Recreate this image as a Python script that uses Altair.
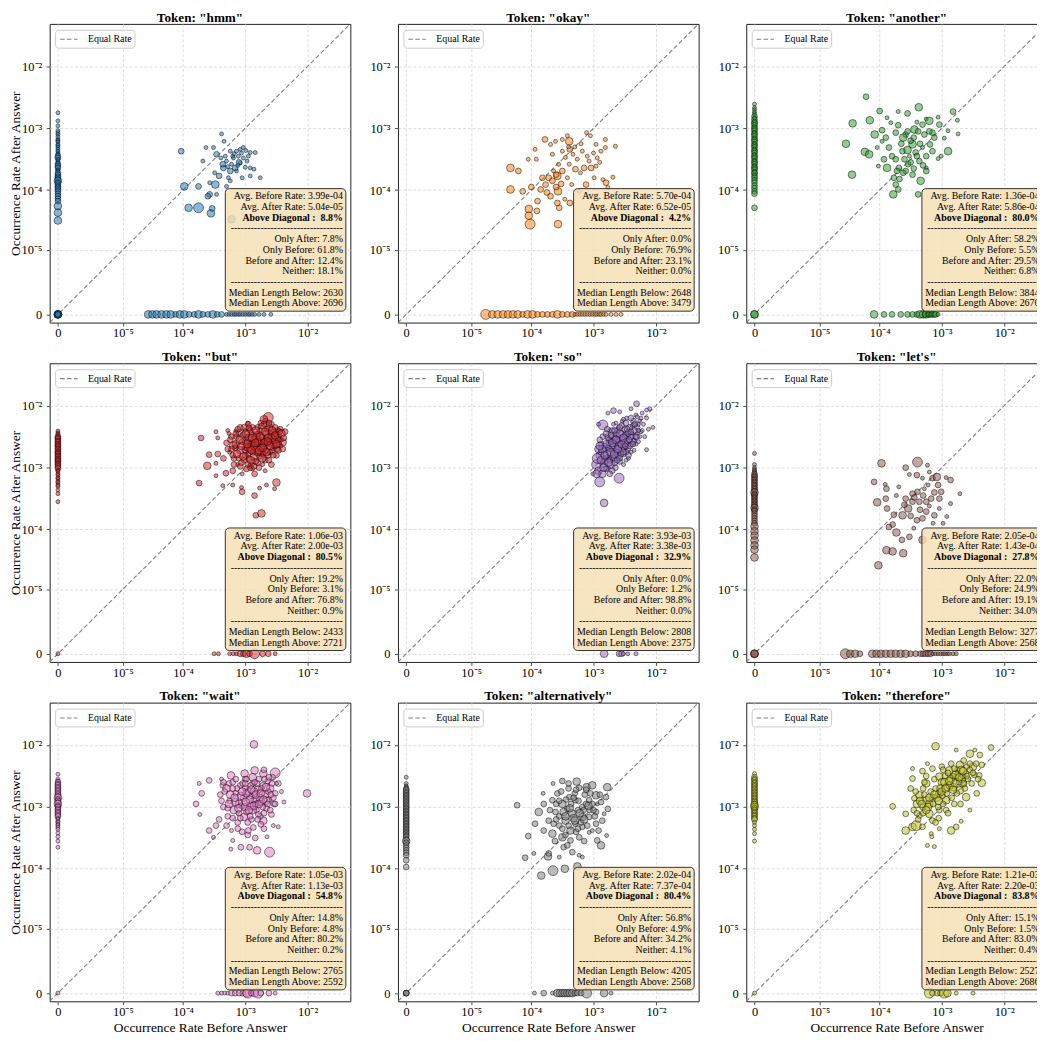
import altair as alt
import pandas as pd

# ---------------- data ----------------
TOKENS = ["hmm", "okay", "another", "but", "so", "let's", "wait", "alternatively", "therefore"]
COLORS = ["#1f77b4", "#ff7f0e", "#2ca02c", "#d62728", "#9467bd", "#8c564b", "#e377c2", "#7f7f7f", "#bcbd22"]

AVG_BEFORE = ["3.99e-04", "5.70e-04", "1.36e-04", "1.06e-03", "3.93e-03", "2.05e-04", "1.05e-03", "2.02e-04", "1.21e-03"]
AVG_AFTER = ["5.04e-05", "6.52e-05", "5.86e-04", "2.00e-03", "3.38e-03", "1.43e-04", "1.13e-03", "7.37e-04", "2.20e-03"]
ABOVE_DIAG = ["8.8%", "4.2%", "80.0%", "80.5%", "32.9%", "27.8%", "54.8%", "80.4%", "83.8%"]
ONLY_AFTER = ["7.8%", "0.0%", "58.2%", "19.2%", "0.0%", "22.0%", "14.8%", "56.8%", "15.1%"]
ONLY_BEFORE = ["61.8%", "76.9%", "5.5%", "3.1%", "1.2%", "24.9%", "4.8%", "4.9%", "1.5%"]
BOTH = ["12.4%", "23.1%", "29.5%", "76.8%", "98.8%", "19.1%", "80.2%", "34.2%", "83.0%"]
NEITHER = ["18.1%", "0.0%", "6.8%", "0.9%", "0.0%", "34.0%", "0.2%", "4.1%", "0.4%"]
MED_BELOW = ["2630", "2648", "3844", "2433", "2808", "3277", "2765", "4205", "2527"]
MED_ABOVE = ["2696", "3479", "2670", "2721", "2375", "2568", "2592", "2568", "2686"]

TICK_VALUES = [0, 1e-5, 1e-4, 1e-3, 1e-2]
TICK_LABELS = ["0", "10\u207b\u2075", "10\u207b\u2074", "10\u207b\u00b3", "10\u207b\u00b2"]
AXIS_MIN, AXIS_MAX = -3.55e-7, 0.0483

# points: (log10 before, log10 after, size class) ; strips: (log10 value, size class)
HMM_CLOUD = [(-4.03,-3.37,2),(-3.98,-3.94,3),(-3.91,-4.29,3),(-3.75,-4.29,4),(-3.55,-4.38,3),(-3.53,-4.30,2),
    (-3.75,-3.94,2),(-3.57,-4.07,2),(-3.48,-3.91,3),(-3.68,-3.53,1),(-3.51,-3.31,1),(-3.38,-3.09,1),(-3.46,-3.42,2),
    (-3.30,-3.94,1),(-3.42,-3.77,2),(-3.49,-3.72,1),(-3.35,-3.64,2),(-3.30,-3.53,1),(-3.24,-3.37,1),(-3.19,-3.48,1),
    (-3.14,-3.37,1),(-3.08,-3.34,1),(-3.03,-3.31,1),(-2.92,-3.39,1),(-2.84,-3.39,1),(-3.22,-3.58,1),(-3.16,-3.64,2),
    (-3.08,-3.56,1),(-3.00,-3.63,1),(-2.92,-3.64,1),(-2.86,-3.66,1),(-2.76,-3.80,1),(-2.92,-3.77,1),(-3.05,-3.80,1),
    (-3.14,-3.69,1),(-3.24,-3.69,2),(-3.27,-3.80,1),(-3.03,-3.48,1),(-2.97,-3.53,1),(-3.20,-3.45,1),(-3.32,-3.45,1),
    (-3.39,-3.48,1),(-3.11,-3.45,1),(-3.57,-3.88,1),(-3.46,-4.07,1),(-3.22,-4.48,3),(-3.60,-4.10,2),(-3.24,-3.85,1),
    (-3.63,-3.31,1),(-3.34,-3.21,1),(-3.36,-3.58,2),(-3.10,-3.55,2),(-2.95,-3.45,1),(-3.18,-3.41,1),(-3.06,-3.40,1),
    (-2.99,-3.36,1),(-3.28,-3.62,1),(-3.12,-3.60,1)]
HMM_AFTER = [(-2.75,1),(-2.88,1),(-2.96,1),(-3.04,1),(-3.07,1),(-3.10,1),(-3.14,1),(-3.18,1),(-3.20,1),(-3.22,1),
    (-3.26,1),(-3.28,1),(-3.31,1),(-3.34,1),(-3.37,1),(-3.40,1),(-3.42,1),(-3.45,2),(-3.48,2),(-3.50,1),(-3.53,1),
    (-3.56,1),(-3.58,2),(-3.61,2),(-3.64,2),(-3.67,1),(-3.69,1),(-3.72,2),(-3.75,2),(-3.78,2),(-3.80,2),(-3.83,2),
    (-3.85,3),(-3.88,2),(-3.91,2),(-3.94,2),(-3.96,2),(-3.99,2),(-4.02,2),(-4.06,2),(-4.10,2),(-4.14,2),(-4.18,2),
    (-4.26,3),(-4.37,3),(-4.50,3)]
HMM_BEFORE = [(-4.57,3),(-4.50,3),(-4.43,3),(-4.35,3),(-4.27,3),(-4.20,3),(-4.12,2),(-4.05,3),(-3.98,3),(-3.90,2),
    (-3.82,2),(-3.75,3),(-3.68,2),(-3.60,2),(-3.52,3),(-3.45,2),(-3.38,2),(-3.30,1),(-3.26,1),(-3.22,1),(-3.18,1),
    (-3.15,1),(-3.11,1),(-3.08,1),(-3.04,1),(-3.00,1),(-2.96,1),(-2.93,1),(-2.89,1),(-2.85,1),(-2.78,1),(-2.70,1),
    (-2.59,1)]
HMM_NEITHER = [3, 3, 3, 2, 2]

OKAY_CLOUD = [(-3.78,-3.18,2),(-3.94,-3.34,1),(-4.05,-3.50,1),(-3.92,-3.50,1),(-4.34,-3.64,3),(-4.21,-3.69,2),
    (-4.34,-3.99,3),(-4.14,-4.02,2),(-4.00,-3.95,2),(-3.90,-4.18,2),(-4.04,-4.31,3),(-4.04,-4.42,3),(-3.91,-4.34,2),
    (-4.02,-4.56,4),(-3.57,-4.56,3),(-3.55,-4.29,2),(-3.58,-4.21,2),(-3.72,-3.80,2),(-3.77,-3.91,2),(-3.66,-3.85,2),
    (-3.58,-3.77,3),(-3.57,-4.02,3),(-3.69,-4.10,2),(-3.64,-3.69,1),(-3.56,-3.58,1),(-3.66,-3.42,1),(-3.69,-3.26,1),
    (-3.61,-3.21,1),(-3.50,-3.18,1),(-3.39,-3.21,3),(-3.42,-3.12,1),(-3.38,-3.34,2),(-3.50,-3.37,1),(-3.33,-3.42,1),
    (-3.26,-3.50,1),(-3.18,-3.37,1),(-3.11,-3.07,1),(-3.05,-3.12,1),(-2.96,-3.26,1),(-2.88,-3.37,1),(-2.81,-3.18,1),
    (-2.81,-3.31,1),(-2.65,-3.29,1),(-2.94,-3.48,1),(-3.07,-3.53,1),(-3.15,-3.64,2),(-3.04,-3.64,2),(-2.96,-3.61,1),
    (-3.21,-3.72,1),(-3.29,-3.66,2),(-3.39,-3.58,1),(-3.42,-3.80,1),(-3.35,-3.91,1),(-3.46,-4.15,1),(-3.38,-4.21,2),
    (-3.12,-3.91,2),(-2.99,-3.80,1),(-2.85,-3.83,1),(-2.69,-3.79,1),(-2.80,-3.88,2),(-2.77,-3.96,1),(-3.23,-4.02,1),
    (-3.50,-3.69,2),(-3.82,-3.80,2),(-3.85,-3.99,2),(-3.75,-4.04,2),(-3.45,-3.47,1),(-3.30,-3.30,1),(-3.60,-3.95,2),
    (-3.40,-3.30,1),(-3.20,-3.25,1),(-3.00,-3.40,1),(-2.90,-3.55,1),(-3.10,-3.45,1),(-3.60,-3.75,2),(-3.52,-3.90,2)]
OKAY_AFTER = []
OKAY_BEFORE = [(-4.75,4),(-4.64,3),(-4.55,3),(-4.46,3),(-4.38,3),(-4.30,3),(-4.22,3),(-4.14,2),(-4.06,3),(-3.98,3),
    (-3.90,2),(-3.82,2),(-3.74,2),(-3.66,2),(-3.58,3),(-3.50,2),(-3.42,2),(-3.34,2),(-3.30,1),(-3.26,1),(-3.22,1),
    (-3.18,1),(-3.14,1),(-3.10,1),(-3.06,1),(-3.02,1),(-2.98,1),(-2.95,1),(-2.91,1),(-2.88,1),(-2.84,1),(-2.80,1),
    (-2.72,1),(-2.64,1),(-2.56,1)]
OKAY_NEITHER = []

ANOTHER_CLOUD = [(-4.22,-2.49,2),(-4.55,-3.25,3),(-4.44,-2.92,3),(-4.45,-3.75,3),(-4.16,-2.87,3),(-4.00,-2.72,2),
    (-3.88,-2.83,1),(-3.70,-2.73,1),(-3.55,-2.76,2),(-3.37,-2.66,3),(-3.25,-2.85,1),(-3.06,-2.82,1),(-2.82,-2.73,2),
    (-2.75,-2.87,1),(-2.74,-3.09,1),(-2.90,-3.04,1),(-2.96,-3.16,1),(-2.90,-3.37,3),(-3.01,-3.45,1),(-3.06,-3.49,1),
    (-3.19,-3.26,2),(-3.15,-3.07,2),(-3.20,-2.88,3),(-3.31,-2.94,2),(-3.44,-3.02,3),(-3.58,-3.10,2),(-3.62,-3.15,3),
    (-3.74,-3.07,2),(-3.82,-2.91,1),(-3.96,-3.03,2),(-4.08,-3.10,3),(-3.96,-3.21,1),(-3.85,-3.31,2),(-4.04,-3.31,1),
    (-4.24,-3.38,3),(-4.17,-3.42,3),(-3.93,-3.50,2),(-4.02,-3.61,1),(-3.74,-3.50,2),(-3.88,-3.64,3),(-3.69,-3.64,2),
    (-3.54,-3.58,2),(-3.47,-3.75,2),(-3.58,-3.69,2),(-3.77,-3.80,2),(-3.74,-3.91,2),(-3.70,-3.99,2),(-3.78,-4.07,3),
    (-3.34,-3.85,3),(-3.25,-3.64,1),(-3.25,-3.69,2),(-3.36,-3.53,2),(-3.47,-3.26,3),(-3.31,-3.31,1),(-3.42,-3.39,2),
    (-3.63,-3.37,2),(-3.52,-3.45,1),(-3.15,-3.37,2),(-3.04,-2.94,2),(-3.12,-3.15,2),(-3.38,-4.07,2),(-3.72,-3.69,2),
    (-3.50,-3.20,2),(-3.28,-3.10,2),(-3.40,-2.90,1),(-3.65,-3.25,2),(-3.60,-3.50,2),(-3.55,-3.35,3),(-3.50,-3.55,2),
    (-3.45,-3.15,2),(-3.40,-3.45,2),(-3.35,-3.25,2),(-3.30,-3.60,2),(-3.55,-3.05,2),(-3.68,-3.82,2),(-3.62,-3.72,2),
    (-3.45,-3.65,2),(-3.25,-3.45,2),(-3.20,-3.05,2),(-3.38,-3.05,2),(-3.80,-3.45,2),(-3.90,-3.15,2),(-3.70,-2.95,2)]
ANOTHER_AFTER = [(-2.61,1),(-2.67,1),(-2.70,1),(-2.74,1),(-2.77,1),(-2.81,2),(-2.83,1),(-2.86,2),(-2.90,2),(-2.92,2),
    (-2.95,2),(-2.99,2),(-3.01,2),(-3.04,2),(-3.08,2),(-3.10,2),(-3.13,2),(-3.17,2),(-3.19,2),(-3.22,2),(-3.26,2),
    (-3.28,2),(-3.31,2),(-3.35,2),(-3.37,2),(-3.40,2),(-3.44,2),(-3.46,2),(-3.49,2),(-3.53,2),(-3.55,2),(-3.58,2),
    (-3.62,2),(-3.64,2),(-3.67,2),(-3.71,2),(-3.73,2),(-3.77,2),(-3.80,2),(-3.84,2),(-3.88,2),(-3.93,2),(-3.97,2),
    (-4.02,2),(-4.06,2),(-4.29,2)]
ANOTHER_BEFORE = [(-4.09,3),(-3.93,2),(-3.80,2),(-3.66,2),(-3.55,2),(-3.47,2),(-3.40,2),(-3.35,3),(-3.30,3),
    (-3.27,2),(-3.25,3),(-3.22,2),(-3.20,2),(-3.17,2),(-3.15,2),(-3.12,2),(-3.10,2),(-3.06,1)]
ANOTHER_NEITHER = [3, 3]

BUT_CLOUD = [(-3.71,-2.52,2),(-3.74,-3.25,2),(-3.61,-2.97,3),(-3.47,-3.13,1),(-3.47,-2.93,1),(-3.47,-2.42,1),
    (-3.44,-2.52,1),(-3.31,-3.09,2),(-3.36,-3.29,1),(-3.20,-3.28,1),(-3.06,-3.32,1),(-3.05,-3.39,2),(-2.85,-3.45,2),
    (-2.83,-3.77,2),(-2.74,-3.74,3),(-2.77,-3.33,1),(-2.66,-3.28,1),(-2.50,-3.24,3),(-2.53,-3.34,1),(-2.40,-2.59,3),
    (-2.63,-2.19,4),(-2.68,-2.25,2),(-2.36,-2.42,2),(-3.01,-2.36,3),(-2.96,-2.28,1),(-3.15,-2.41,1),(-3.44,-2.78,2),
    (-3.58,-2.79,2),
    (-3.30,-2.60,2),(-3.25,-2.75,1),(-3.22,-2.50,2),(-3.18,-2.85,2),(-3.15,-2.62,3),(-3.12,-2.95,1),(-3.10,-2.45,2),
    (-3.08,-2.72,3),(-3.05,-2.58,2),(-3.02,-2.88,2),(-3.00,-2.40,1),(-2.98,-2.66,3),(-2.96,-2.78,2),(-2.94,-2.52,3),
    (-2.92,-3.00,2),(-2.90,-2.62,3),(-2.88,-2.35,2),(-2.86,-2.82,3),(-2.84,-2.70,2),(-2.82,-2.48,3),(-2.80,-2.92,2),
    (-2.78,-2.60,3),(-2.76,-2.40,2),(-2.74,-2.76,3),(-2.72,-2.55,2),(-2.70,-2.66,3),(-2.68,-2.88,2),(-2.66,-2.45,3),
    (-2.64,-2.62,2),(-2.62,-2.35,3),(-2.60,-2.75,2),(-2.58,-2.52,3),(-2.56,-2.68,2),(-2.54,-2.42,2),(-2.52,-2.58,3),
    (-2.50,-2.80,2),(-2.48,-2.50,2),(-2.46,-2.62,2),(-2.44,-2.38,2),(-2.42,-2.55,1),(-2.40,-2.70,2),(-3.20,-3.05,2),
    (-3.05,-3.10,1),(-2.95,-2.30,2),(-2.75,-2.28,2),(-2.58,-2.95,2),(-2.68,-3.05,1),(-3.35,-2.85,2),(-3.28,-2.40,1),
    (-2.85,-3.10,2),(-2.70,-2.22,3),(-2.90,-2.95,2),(-3.12,-2.38,2),(-2.62,-2.88,2),(-2.98,-2.50,2),(-2.80,-2.75,3),
    (-2.65,-2.55,2),(-3.00,-2.80,2),(-2.88,-2.60,2),
    (-3.28,-2.70,2),(-3.24,-2.55,2),(-3.20,-2.80,2),(-3.16,-2.68,2),(-3.14,-2.50,2),(-3.10,-2.85,2),(-3.06,-2.65,3),
    (-3.04,-2.48,2),(-3.00,-2.72,2),(-2.97,-2.58,2),(-2.94,-2.85,2),(-2.92,-2.70,3),(-2.90,-2.45,2),(-2.87,-2.75,2),
    (-2.85,-2.55,3),(-2.83,-2.90,2),(-2.81,-2.62,2),(-2.79,-2.45,2),(-2.77,-2.82,2),(-2.75,-2.68,3),(-2.73,-2.50,2),
    (-2.71,-2.78,2),(-2.69,-2.58,2),(-2.67,-2.72,2),(-2.65,-2.38,2),(-2.63,-2.80,2),(-2.61,-2.58,2),(-2.59,-2.45,2),
    (-2.57,-2.72,2),(-2.55,-2.55,3),(-2.53,-2.65,2),(-2.51,-2.45,2),(-2.49,-2.70,2),(-2.47,-2.55,2),(-2.45,-2.48,1),
    (-2.43,-2.65,1),(-3.18,-2.95,2),(-3.08,-2.98,2),(-2.98,-3.02,2),(-2.88,-3.02,1),(-2.78,-3.00,2),(-2.72,-2.95,1),
    (-3.26,-2.45,1),(-3.08,-2.35,2),(-2.92,-2.40,2),(-2.80,-2.35,2),(-2.70,-2.30,2),(-2.58,-2.30,2),(-2.52,-2.35,2),
    (-2.48,-2.40,2)]
BUT_CORE = [(-3.19,-2.64,3),(-3.13,-2.78,3),(-3.09,-2.55,3),(-3.03,-2.82,3),(-2.99,-2.45,3),(-2.95,-2.68,3),
    (-2.91,-2.88,3),(-2.89,-2.52,3),(-2.86,-2.65,3),(-2.83,-2.40,3),(-2.80,-2.58,3),(-2.78,-2.72,3),(-2.76,-2.50,3),
    (-2.73,-2.85,3),(-2.70,-2.60,3),(-2.68,-2.42,3),(-2.66,-2.75,3),(-2.63,-2.52,3),(-2.60,-2.65,3),(-2.57,-2.40,3),
    (-2.55,-2.80,2),(-2.52,-2.48,3),(-2.50,-2.62,3),(-2.47,-2.72,2),(-2.45,-2.42,2),(-3.06,-2.92,2),(-2.96,-2.95,2),
    (-2.86,-2.98,2),(-3.15,-2.45,2),(-2.94,-2.36,2),(-2.74,-2.33,2),(-2.62,-2.28,2),(-2.42,-2.45,3),(-2.38,-2.52,2),
    (-3.22,-2.70,2),(-2.90,-2.72,3),(-2.72,-2.68,3),(-2.84,-2.60,3),(-2.64,-2.58,3),(-2.97,-2.62,3)]
BUT_AFTER = [(-2.41,1),(-2.44,1),(-2.46,1),(-2.50,2),(-2.52,2),(-2.54,2),(-2.57,2),(-2.59,2),(-2.62,2),(-2.64,2),
    (-2.66,2),(-2.69,2),(-2.71,2),(-2.74,2),(-2.76,2),(-2.78,2),(-2.81,2),(-2.83,2),(-2.86,2),(-2.88,2),(-2.90,2),
    (-2.93,2),(-2.95,2),(-2.98,2),(-3.01,2),(-3.04,1),(-3.06,1),(-3.10,1),(-3.12,1),(-3.16,1),(-3.18,1),(-3.22,1),
    (-3.24,1),(-3.28,1),(-3.30,1),(-3.36,1),(-3.42,1),(-3.55,1)]
BUT_BEFORE = [(-3.50,1),(-3.43,1),(-3.25,1),(-3.19,1),(-3.14,1),(-3.08,2),(-3.03,2),(-2.98,3),(-2.93,2),(-2.85,4),
    (-2.72,2),(-2.63,2),(-2.52,1)]
BUT_NEITHER = [1]

SO_CLOUD = [(-2.95,-2.95,4),(-2.92,-3.05,3),(-2.90,-2.80,3),(-2.88,-2.62,2),(-2.86,-3.10,3),(-2.85,-2.31,4),
    (-2.83,-3.57,3),(-2.82,-2.90,2),(-2.80,-2.70,3),(-2.78,-2.50,2),(-2.78,-3.00,2),(-2.76,-2.85,2),(-2.75,-2.60,2),
    (-2.74,-2.40,1),(-2.72,-2.95,3),(-2.70,-2.72,2),(-2.70,-2.50,2),(-2.68,-2.30,1),(-2.67,-2.85,2),(-2.65,-2.62,2),
    (-2.64,-2.45,2),(-2.62,-2.75,2),(-2.60,-2.55,2),(-2.60,-2.35,1),(-2.59,-3.17,4),(-2.58,-2.90,2),(-2.56,-2.65,2),
    (-2.55,-2.45,2),(-2.54,-2.25,1),(-2.52,-2.78,2),(-2.50,-2.58,2),(-2.50,-2.38,2),(-2.48,-2.68,1),(-2.47,-2.20,1),
    (-2.45,-2.50,2),(-2.44,-2.85,1),(-2.42,-2.35,2),(-2.40,-2.62,2),(-2.38,-2.45,1),(-2.36,-2.25,2),(-2.35,-2.72,1),
    (-2.33,-2.50,2),(-2.32,-2.15,1),(-2.30,-2.35,2),(-2.28,-2.58,1),(-2.26,-2.25,1),(-2.24,-2.42,1),(-2.22,-2.12,1),
    (-2.20,-2.30,1),(-2.18,-2.50,1),(-2.15,-2.71,1),(-2.15,-2.20,1),(-2.12,-2.38,1),(-2.10,-2.05,1),(-2.31,-1.97,2),
    (-2.15,-2.07,1),(-2.77,-2.12,1),(-2.92,-2.30,1),(-3.01,-3.10,1),(-2.68,-2.08,2),(-2.58,-2.10,1),(-2.40,-2.05,1),
    (-2.05,-2.35,1),(-2.65,-3.00,2),(-2.52,-2.95,1),(-2.45,-2.70,2),(-2.35,-2.55,1),(-2.90,-3.23,4),(-2.94,-2.85,4),
    (-2.88,-2.75,2),(-2.85,-2.95,2),(-2.82,-2.65,2),(-2.80,-2.85,2),(-2.78,-2.78,3),(-2.76,-2.68,2),(-2.74,-2.88,2),
    (-2.72,-2.58,2),(-2.70,-2.82,2),(-2.68,-2.65,2),(-2.66,-2.92,2),(-2.64,-2.72,2),(-2.62,-2.55,2),(-2.60,-2.82,2),
    (-2.58,-2.62,2),(-2.56,-2.78,2),(-2.54,-2.52,2),(-2.52,-2.68,2),(-2.50,-2.48,2),(-2.48,-2.75,2),(-2.46,-2.58,2),
    (-2.44,-2.42,2),(-2.42,-2.65,2),(-2.40,-2.50,2),(-2.38,-2.32,1),(-2.36,-2.58,2),(-2.34,-2.40,2),(-2.32,-2.62,1),
    (-2.30,-2.45,1),(-2.28,-2.30,1),(-2.26,-2.50,1),(-2.24,-2.20,1),(-2.22,-2.40,1),(-2.62,-2.40,2),(-2.55,-2.32,2),
    (-2.70,-2.40,2),(-2.66,-2.52,2),(-2.60,-2.65,3),(-2.50,-2.60,3),(-2.45,-2.45,2),(-2.75,-2.55,2),(-2.85,-2.50,2),
    (-2.92,-2.70,3),(-2.88,-2.88,3),(-2.80,-3.02,2),(-2.70,-3.05,2),(-2.58,-2.85,2),(-2.48,-2.88,1),(-2.40,-2.75,1),
    (-2.35,-2.30,1),(-2.52,-2.22,1),(-2.64,-2.28,1),(-2.78,-2.38,2),(-2.90,-2.55,2)]
SO_CORE = [(-2.86,-2.70,3),(-2.82,-2.80,3),(-2.79,-2.62,3),(-2.76,-2.92,3),(-2.73,-2.75,3),(-2.70,-2.60,3),
    (-2.67,-2.78,3),(-2.64,-2.55,3),(-2.61,-2.70,3),(-2.58,-2.45,3),(-2.55,-2.62,3),(-2.52,-2.52,3),(-2.49,-2.65,2),
    (-2.46,-2.38,2),(-2.43,-2.55,2),(-2.40,-2.42,2),(-2.37,-2.62,2),(-2.34,-2.30,2),(-2.31,-2.50,2),(-2.28,-2.40,1),
    (-2.72,-2.48,2),(-2.66,-2.40,2),(-2.58,-2.35,2),(-2.48,-2.28,2),(-2.40,-2.20,2),(-2.30,-2.18,1),(-2.62,-2.88,2),
    (-2.52,-2.75,2),(-2.44,-2.80,2),(-2.80,-2.45,2),(-2.90,-2.65,3),(-2.84,-3.00,3),(-2.95,-3.10,3),(-2.74,-3.10,2)]
SO_AFTER = []
SO_BEFORE = [(-2.83,3),(-2.59,2),(-2.55,2),(-2.52,1),(-2.45,1),(-2.32,1)]
SO_NEITHER = []

LETS_CLOUD = [(-3.97,-2.93,3),(-3.58,-3.00,2),(-3.39,-2.91,4),(-3.23,-2.96,1),(-3.20,-3.07,1),(-3.52,-3.11,1),
    (-3.40,-3.12,2),(-3.31,-3.17,1),(-3.15,-3.17,2),(-3.08,-3.15,3),(-2.93,-3.16,1),(-2.86,-3.20,2),(-2.71,-3.42,1),
    (-2.86,-3.58,1),(-2.92,-3.79,1),(-4.09,-3.23,2),(-3.91,-3.27,1),(-3.89,-3.34,2),(-3.69,-3.31,1),(-3.73,-3.45,1),
    (-3.58,-3.50,2),(-3.90,-3.50,2),(-4.04,-3.56,3),(-3.88,-3.66,2),(-3.77,-3.76,2),(-3.79,-3.92,2),(-3.63,-3.77,3),
    (-3.54,-3.66,3),(-3.47,-3.55,2),(-3.36,-3.55,2),(-3.25,-3.55,2),(-3.17,-3.50,2),(-3.04,-3.50,2),(-3.01,-3.39,2),
    (-3.06,-3.28,2),(-3.28,-3.34,1),(-3.39,-3.39,2),(-3.47,-3.42,2),(-3.25,-3.71,2),(-3.31,-3.82,2),(-3.12,-3.77,2),
    (-3.04,-3.66,1),(-2.98,-3.90,1),(-3.14,-3.90,1),(-3.45,-3.98,1),(-3.52,-4.12,2),(-3.64,-4.17,2),(-3.73,-4.05,3),
    (-3.31,-4.17,3),(-3.89,-4.34,3),(-3.79,-4.36,3),(-3.62,-4.39,3),(-4.02,-4.59,3),(-3.85,-3.96,2),(-3.60,-3.60,2),
    (-3.35,-3.68,2),(-3.20,-3.62,1),(-3.44,-3.48,2),(-3.30,-3.45,2),(-3.12,-3.40,2),(-3.22,-3.28,1),(-3.50,-3.78,2),
    (-3.40,-3.85,2)]
LETS_AFTER = [(-2.77,1),(-2.95,1),(-3.00,1),(-3.03,1),(-3.05,1),(-3.08,1),(-3.10,2),(-3.13,2),(-3.15,2),(-3.18,2),
    (-3.20,2),(-3.23,2),(-3.25,2),(-3.28,2),(-3.30,2),(-3.33,2),(-3.35,2),(-3.38,2),(-3.40,3),(-3.43,2),(-3.45,2),
    (-3.48,2),(-3.50,2),(-3.53,2),(-3.55,2),(-3.58,2),(-3.60,2),(-3.63,2),(-3.65,3),(-3.68,2),(-3.70,2),(-3.74,2),
    (-3.78,2),(-3.82,2),(-3.86,2),(-3.90,2),(-3.95,3),(-4.03,3),(-4.10,3),(-4.18,3),(-4.26,3),(-4.33,3),(-4.46,3)]
LETS_BEFORE = [(-4.56,4),(-4.48,3),(-4.40,3),(-4.32,2),(-4.12,3),(-4.05,3),(-3.98,3),(-3.90,3),(-3.82,3),(-3.74,3),
    (-3.66,3),(-3.58,3),(-3.50,2),(-3.42,2),(-3.34,2),(-3.30,2),(-3.26,2),(-3.22,2),(-3.18,2),(-3.14,1),(-3.10,1),
    (-3.06,1),(-3.02,1),(-2.98,1),(-2.95,1),(-2.91,1),(-2.88,1),(-2.82,1),(-2.77,1)]
LETS_NEITHER = [3, 3, 3]

WAIT_CLOUD = [(-2.86,-1.99,3),(-3.79,-2.95,2),(-3.73,-3.12,1),(-3.70,-2.78,2),(-3.58,-2.57,2),(-3.74,-2.62,1),
    (-2.01,-2.78,3),(-2.38,-2.92,1),(-2.47,-3.32,1),(-2.61,-3.73,4),(-2.81,-3.70,3),(-2.93,-3.65,2),(-3.07,-3.65,2),
    (-3.20,-3.54,1),(-3.23,-3.68,1),(-3.51,-3.49,1),(-3.58,-3.38,2),(-3.47,-3.30,2),(-2.52,-2.45,4),(-2.71,-2.46,3),
    (-2.85,-2.41,3),(-3.01,-2.46,3),(-3.23,-2.49,3),(-3.26,-2.62,2),(-3.36,-2.65,2),(-2.47,-2.62,2),(-2.42,-2.75,1),
    (-3.02,-3.16,3),(-2.71,-3.22,3),(-2.87,-3.33,2),
    (-3.40,-2.80,2),(-3.35,-3.00,2),(-3.30,-2.70,3),(-3.28,-3.15,2),(-3.25,-2.90,2),(-3.20,-2.60,2),(-3.18,-3.05,3),
    (-3.15,-2.78,2),(-3.12,-3.25,2),(-3.10,-2.95,3),(-3.08,-2.65,2),(-3.05,-3.40,2),(-3.02,-2.85,3),(-3.00,-2.55,2),
    (-2.98,-3.08,2),(-2.95,-2.75,3),(-2.92,-2.98,3),(-2.90,-3.20,2),(-2.88,-2.62,2),(-2.85,-2.88,3),(-2.82,-3.05,2),
    (-2.80,-2.72,3),(-2.78,-2.55,2),(-2.76,-3.15,2),(-2.74,-2.92,3),(-2.72,-2.65,2),(-2.70,-3.35,2),(-2.68,-2.80,3),
    (-2.66,-3.02,2),(-2.64,-2.58,2),(-2.62,-2.88,2),(-2.60,-2.70,3),(-2.58,-3.12,2),(-2.56,-2.52,2),(-2.54,-2.95,2),
    (-2.52,-2.78,2),(-2.55,-3.30,1),(-2.50,-2.62,1),(-3.38,-2.55,1),(-3.42,-3.20,2),(-3.22,-3.38,1),(-2.96,-3.45,2),
    (-2.84,-3.50,2),(-2.65,-3.48,1),(-3.00,-2.70,2),(-2.90,-2.82,2),(-2.82,-2.95,2),(-3.06,-2.98,2),
    (-3.38,-2.90,2),(-3.33,-2.75,2),(-3.28,-3.02,2),(-3.24,-2.80,3),(-3.20,-3.18,2),(-3.16,-2.92,3),(-3.13,-2.70,2),
    (-3.10,-3.10,2),(-3.07,-2.82,3),(-3.04,-2.62,2),(-3.01,-3.00,3),(-2.98,-2.78,3),(-2.96,-3.25,2),(-2.93,-2.88,3),
    (-2.91,-2.65,2),(-2.88,-3.05,3),(-2.86,-2.75,3),(-2.84,-2.95,2),(-2.81,-2.62,2),(-2.79,-3.12,2),(-2.77,-2.85,3),
    (-2.74,-2.70,2),(-2.72,-3.00,2),(-2.69,-2.55,2),(-2.66,-2.90,3),(-2.63,-2.75,2),(-2.60,-3.05,2),(-2.57,-2.62,2),
    (-2.55,-2.85,2),(-2.52,-2.95,2),(-3.30,-3.30,2),(-3.12,-3.35,2),(-2.95,-3.38,2),(-2.75,-3.28,2),(-3.35,-2.60,2),
    (-3.15,-2.55,2),(-2.98,-2.55,2),(-2.70,-2.40,2),(-2.62,-2.52,2),(-2.88,-2.52,3)]
WAIT_CORE = [(-3.26,-2.95,3),(-3.17,-2.85,3),(-3.11,-3.02,3),(-3.05,-2.75,3),(-2.99,-2.92,3),(-2.94,-3.05,3),
    (-2.90,-2.72,3),(-2.86,-2.98,3),(-2.83,-2.80,3),(-2.78,-2.95,3),(-2.75,-2.78,3),(-2.71,-2.88,3),(-2.67,-2.68,3),
    (-2.64,-2.95,2),(-2.59,-2.80,2),(-3.08,-3.18,2),(-2.92,-3.15,2),(-2.80,-3.20,2),(-3.20,-2.70,2),(-3.00,-2.62,2),
    (-2.85,-2.60,2),(-2.70,-3.10,2)]
WAIT_AFTER = [(-2.47,1),(-2.55,1),(-2.58,1),(-2.60,2),(-2.63,2),(-2.65,2),(-2.68,2),(-2.70,2),(-2.73,2),(-2.75,2),
    (-2.78,2),(-2.80,2),(-2.83,2),(-2.85,3),(-2.88,2),(-2.90,2),(-2.93,2),(-2.95,3),(-2.98,2),(-3.00,2),(-3.03,2),
    (-3.05,2),(-3.08,2),(-3.10,2),(-3.13,2),(-3.15,2),(-3.18,1),(-3.20,1),(-3.23,1),(-3.25,1),(-3.28,1),(-3.30,1),
    (-3.33,1),(-3.36,1),(-3.42,1),(-3.48,1),(-3.55,1),(-3.65,1)]
WAIT_BEFORE = [(-3.44,1),(-3.38,1),(-3.33,1),(-3.28,1),(-3.22,2),(-3.16,2),(-3.10,2),(-3.04,2),(-2.98,3),(-2.96,4),
    (-2.90,2),(-2.85,3),(-2.79,4),(-2.75,2),(-2.62,2),(-2.52,1)]
WAIT_NEITHER = [1]

ALT_CLOUD = [(-4.23,-2.97,2),(-4.10,-3.82,2),(-3.96,-3.75,1),(-4.05,-3.47,2),(-3.84,-4.11,3),(-3.65,-4.03,4),
    (-3.46,-4.00,3),(-3.26,-3.96,3),(-3.73,-3.80,3),(-3.72,-3.75,2),(-3.55,-3.81,1),(-3.48,-3.65,2),(-3.34,-3.73,2),
    (-3.23,-3.78,1),(-3.18,-3.81,1),(-3.37,-3.54,2),(-3.50,-3.49,3),(-3.66,-3.43,3),(-3.80,-3.38,2),(-3.94,-3.27,2),
    (-3.88,-3.08,3),(-3.80,-2.95,2),(-3.81,-2.78,1),(-3.65,-2.62,1),(-3.50,-2.58,2),(-3.27,-2.59,3),(-3.23,-2.69,2),
    (-3.11,-2.68,3),(-3.02,-2.65,3),(-2.78,-2.68,3),(-2.80,-2.84,2),(-2.77,-3.03,2),(-2.83,-3.11,1),(-2.96,-3.08,2),
    (-2.79,-3.46,1),(-2.88,-3.62,3),(-2.94,-3.54,2),(-3.07,-3.41,1),(-3.18,-3.32,2),(-3.07,-3.16,2),(-3.18,-3.00,2),
    (-3.29,-2.89,2),(-3.39,-2.84,2),(-3.50,-2.95,3),(-3.61,-3.08,2),(-3.64,-3.27,2),(-3.45,-3.22,3),(-3.29,-3.27,2),
    (-3.18,-3.16,3),(-3.07,-2.89,2),(-2.96,-2.81,3),(-2.94,-2.95,1),(-3.42,-3.03,2),(-3.58,-2.78,2),(-3.66,-2.89,2),
    (-3.72,-3.22,2),(-3.37,-3.38,3),(-3.23,-3.49,2),(-3.02,-3.38,1),(-2.96,-3.27,2),(-3.35,-3.10,3),(-3.25,-3.05,2),
    (-3.12,-2.95,2),(-3.40,-2.70,2),(-3.55,-3.15,2),(-3.30,-2.78,2),
    (-3.60,-2.95,2),(-3.55,-3.30,2),(-3.48,-3.08,3),(-3.44,-2.88,2),(-3.40,-3.30,2),(-3.36,-2.95,2),(-3.32,-3.18,3),
    (-3.28,-3.40,2),(-3.24,-2.90,2),(-3.20,-3.25,2),(-3.16,-3.05,2),(-3.14,-2.80,2),(-3.10,-3.30,2),(-3.06,-3.05,2),
    (-3.02,-2.95,2),(-2.98,-3.15,2),(-2.92,-3.38,2),(-2.88,-2.92,2),(-2.86,-3.22,2),(-3.45,-3.45,2),(-3.52,-2.75,2),
    (-3.70,-3.05,2),(-3.62,-3.55,2),(-3.42,-3.62,2),(-3.15,-3.55,2),(-3.28,-2.72,2),(-3.05,-2.78,2)]
ALT_CORE = [(-3.45,-3.15,3),(-3.38,-3.02,3),(-3.30,-3.22,3),(-3.22,-3.10,3),(-3.15,-3.20,3),(-3.08,-2.98,3),
    (-3.32,-2.85,2),(-3.50,-3.35,2),(-3.25,-3.35,2),(-3.00,-3.05,2),(-2.90,-2.80,2),(-3.40,-2.62,2),(-3.60,-3.20,2),
    (-3.12,-2.72,2),(-3.55,-2.90,2)]
ALT_AFTER = [(-2.52,1),(-2.62,1),(-2.66,1),(-2.68,1),(-2.71,2),(-2.73,2),(-2.76,2),(-2.78,2),(-2.81,2),(-2.83,2),
    (-2.86,2),(-2.88,2),(-2.91,2),(-2.93,2),(-2.96,2),(-2.98,2),(-3.01,2),(-3.03,2),(-3.06,2),(-3.08,2),(-3.11,2),
    (-3.13,2),(-3.16,2),(-3.18,2),(-3.21,2),(-3.23,2),(-3.26,2),(-3.28,2),(-3.31,2),(-3.33,2),(-3.36,2),(-3.38,2),
    (-3.41,2),(-3.43,2),(-3.46,2),(-3.48,2),(-3.52,2),(-3.55,3),(-3.58,2),(-3.62,2),(-3.66,2),(-3.70,2),(-3.74,2),
    (-3.78,2),(-3.86,2),(-3.97,2)]
ALT_BEFORE = [(-3.95,1),(-3.80,2),(-3.66,1),(-3.58,3),(-3.54,3),(-3.50,3),(-3.46,3),(-3.42,3),(-3.38,3),(-3.34,3),
    (-3.30,2),(-3.26,2),(-3.20,2),(-3.11,4),(-2.83,3),(-2.72,1)]
ALT_NEITHER = [2, 2, 2]

THEREFORE_CLOUD = [(-3.79,-2.99,2),(-3.58,-3.11,2),(-3.58,-3.38,3),(-3.47,-3.32,3),(-3.41,-3.30,4),(-3.31,-3.32,2),
    (-3.23,-3.62,1),(-3.12,-3.64,1),(-3.17,-3.43,1),(-3.04,-3.35,1),(-2.85,-3.38,3),(-2.77,-3.32,2),(-2.69,-3.23,1),
    (-3.10,-2.02,3),(-2.77,-2.08,1),(-2.55,-2.14,3),(-2.47,-2.08,1),(-2.39,-2.16,2),(-2.21,-2.04,2),(-2.36,-2.32,2),
    (-2.36,-2.61,3),(-2.40,-2.49,2),(-2.61,-2.84,3),(-2.71,-2.73,3),(-2.93,-2.68,3),(-2.93,-2.89,3),(-3.04,-2.78,3),
    (-3.15,-2.84,2),(-3.25,-2.89,3),(-3.36,-2.81,3),(-3.44,-2.86,2),(-3.47,-2.54,2),(-3.47,-2.38,1),(-3.31,-2.42,2),
    (-3.23,-2.30,1),(-3.15,-2.38,2),(-3.04,-2.51,3),(-2.88,-2.41,3),(-2.71,-2.32,3),(-2.77,-2.51,2),(-2.61,-2.46,2),
    (-2.50,-2.35,3),(-2.66,-2.62,3),(-2.82,-2.68,3),(-2.93,-3.05,2),(-3.04,-3.05,2),(-3.20,-3.11,3),(-3.31,-3.00,2),
    (-3.36,-3.14,2),(-3.15,-3.22,2),(-2.55,-3.05,1),(-2.44,-2.78,2),(-3.25,-2.62,3),(-3.16,-3.48,1),(-3.00,-2.60,3),
    (-2.95,-2.50,2),(-2.85,-2.55,3),(-2.75,-2.40,2),(-2.68,-2.55,3),(-3.10,-2.70,2),(-3.20,-2.95,3),(-2.98,-2.95,2),
    (-2.80,-2.95,2),(-3.40,-2.95,3),(-3.30,-2.70,2),(-2.60,-2.35,2),(-3.50,-2.70,2),(-3.05,-3.18,2),
    (-3.45,-3.05,2),(-3.38,-3.20,2),(-3.35,-2.90,3),(-3.30,-3.10,2),(-3.28,-2.80,2),(-3.22,-3.00,3),(-3.18,-2.75,2),
    (-3.14,-2.95,2),(-3.12,-2.55,2),(-3.08,-2.85,3),(-3.06,-3.00,2),(-3.02,-2.70,3),(-2.99,-2.82,2),(-2.96,-2.60,3),
    (-2.92,-2.78,2),(-2.90,-2.45,2),(-2.87,-2.65,3),(-2.84,-2.85,2),(-2.82,-2.50,2),(-2.79,-2.62,3),(-2.76,-2.78,2),
    (-2.74,-2.45,2),(-2.72,-2.60,2),(-2.69,-2.40,3),(-2.66,-2.50,2),(-2.63,-2.70,2),(-2.58,-2.55,2),(-2.55,-2.40,2),
    (-2.52,-2.62,2),(-2.48,-2.48,2),(-2.45,-2.30,2),(-2.42,-2.55,2),(-3.42,-2.75,2),(-3.25,-2.50,2),(-3.00,-2.35,2),
    (-2.85,-2.30,2),(-2.65,-2.25,2),(-3.10,-3.25,2),(-2.90,-3.10,2),(-2.70,-2.95,2)]
THEREFORE_CORE = [(-3.32,-2.95,3),(-3.25,-3.05,3),(-3.20,-2.85,3),(-3.12,-2.80,3),(-3.05,-2.90,3),(-3.00,-2.75,3),
    (-2.94,-2.70,3),(-2.88,-2.58,3),(-2.82,-2.72,3),(-2.78,-2.48,3),(-2.72,-2.52,3),(-2.66,-2.42,3),(-2.60,-2.50,2),
    (-2.55,-2.30,2),(-2.50,-2.45,2),(-3.40,-3.10,2),(-3.28,-2.60,2),(-2.98,-2.40,2),(-2.80,-2.38,2),(-2.65,-2.62,2)]
THEREFORE_AFTER = [(-2.46,1),(-2.52,2),(-2.55,2),(-2.57,2),(-2.60,2),(-2.62,2),(-2.65,2),(-2.67,2),(-2.70,2),
    (-2.72,2),(-2.75,2),(-2.77,2),(-2.80,2),(-2.82,2),(-2.85,2),(-2.87,2),(-2.90,2),(-2.92,2),(-2.95,2),(-2.97,3),
    (-3.00,3),(-3.02,2),(-3.05,2),(-3.08,2),(-3.10,2),(-3.13,2),(-3.15,2),(-3.18,2),(-3.20,2),(-3.25,1),(-3.30,1),
    (-3.36,1),(-3.43,1),(-3.55,1)]
THEREFORE_BEFORE = [(-3.20,4),(-3.15,2),(-3.07,2),(-3.02,2),(-2.96,4),(-2.91,3),(-2.77,1),(-2.50,1)]
THEREFORE_NEITHER = [1]

CLOUDS = [HMM_CLOUD, OKAY_CLOUD, ANOTHER_CLOUD, BUT_CLOUD + BUT_CORE, SO_CLOUD + SO_CORE, LETS_CLOUD,
          WAIT_CLOUD + WAIT_CORE, ALT_CLOUD + ALT_CORE, THEREFORE_CLOUD + THEREFORE_CORE]
AFTERS = [HMM_AFTER, OKAY_AFTER, ANOTHER_AFTER, BUT_AFTER, SO_AFTER, LETS_AFTER, WAIT_AFTER, ALT_AFTER, THEREFORE_AFTER]
BEFORES = [HMM_BEFORE, OKAY_BEFORE, ANOTHER_BEFORE, BUT_BEFORE, SO_BEFORE, LETS_BEFORE, WAIT_BEFORE, ALT_BEFORE, THEREFORE_BEFORE]
NEITHERS = [HMM_NEITHER, OKAY_NEITHER, ANOTHER_NEITHER, BUT_NEITHER, SO_NEITHER, LETS_NEITHER, WAIT_NEITHER, ALT_NEITHER, THEREFORE_NEITHER]

# ---------------- styling ----------------
FONT = "Liberation Serif"
W, H = 303, 301
SEP = "-" * 34

label_expr = ""
for v, lab in reversed(list(zip(TICK_VALUES, TICK_LABELS))):
    if not label_expr:
        label_expr = f"'{lab}'"
    else:
        label_expr = f"(datum.value <= {v * 3 if v else 0} ? '{lab}' : {label_expr})"

SCALE = alt.Scale(type="symlog", constant=1e-6, domain=[AXIS_MIN, AXIS_MAX], nice=False)
SIZE_SCALE = alt.Scale(domain=[1, 2, 3, 4], range=[16, 34, 60, 100])


def build_points(i):
    rows = []
    for xe, ye, s in CLOUDS[i]:
        rows.append((10 ** xe, 10 ** ye, s))
    for ye, s in AFTERS[i]:
        rows.append((0.0, 10 ** ye, s))
    for xe, s in BEFORES[i]:
        rows.append((10 ** xe, 0.0, s))
    for s in NEITHERS[i]:
        rows.append((0.0, 0.0, s))
    return pd.DataFrame(rows, columns=["before", "after", "s"])


def one(text=""):
    return pd.DataFrame({"t": [text]})


def panel(i):
    row, col = divmod(i, 3)
    xaxis = alt.Axis(values=TICK_VALUES, labelExpr=label_expr,
                     title="Occurrence Rate Before Answer" if row == 2 else None)
    yaxis = alt.Axis(values=TICK_VALUES, labelExpr=label_expr,
                     title="Occurrence Rate After Answer" if col == 0 else None)
    X = alt.X("before:Q", scale=SCALE, axis=xaxis)
    Y = alt.Y("after:Q", scale=SCALE, axis=yaxis)

    diag_df = pd.DataFrame({"before": [AXIS_MIN, AXIS_MAX], "after": [AXIS_MIN, AXIS_MAX]})
    diag = alt.Chart(diag_df).mark_line(color="#7f7f7f", strokeDash=[4.5, 2.5], strokeWidth=1.1, clip=True).encode(x=X, y=Y)

    pts = alt.Chart(build_points(i)).mark_circle(
        fill=COLORS[i], stroke="black", strokeWidth=0.7, fillOpacity=0.52, strokeOpacity=0.7, clip=True
    ).encode(x=X, y=Y, size=alt.Size("s:Q", scale=SIZE_SCALE, legend=None))

    box = alt.Chart(one()).mark_rect(
        fill="#f5deb3", fillOpacity=0.82, stroke="#333333", strokeWidth=1, cornerRadius=4
    ).encode(x=alt.value(177), x2=alt.value(298.5), y=alt.value(166), y2=alt.value(289.5))

    txt_kw = dict(align="right", baseline="top", lineBreak="\n", lineHeight=10.8, font=FONT, fontSize=10, color="black")
    block_a = f"Avg. Before Rate: {AVG_BEFORE[i]}\nAvg. After Rate: {AVG_AFTER[i]}"
    block_b = f"Above Diagonal :\u00a0 {ABOVE_DIAG[i]}"
    block_c = "\n".join([SEP, f"Only After: {ONLY_AFTER[i]}", f"Only Before: {ONLY_BEFORE[i]}",
                         f"Before and After: {BOTH[i]}", f"Neither: {NEITHER[i]}", SEP,
                         f"Median Length Below: {MED_BELOW[i]}", f"Median Length Above: {MED_ABOVE[i]}"])
    ta = alt.Chart(one(block_a)).mark_text(**txt_kw).encode(text="t:N", x=alt.value(295.5), y=alt.value(168.8))
    tb = alt.Chart(one(block_b)).mark_text(fontWeight="bold", **txt_kw).encode(text="t:N", x=alt.value(295.5), y=alt.value(190.4))
    tc = alt.Chart(one(block_c)).mark_text(**txt_kw).encode(text="t:N", x=alt.value(295.5), y=alt.value(201.2))

    leg_box = alt.Chart(one()).mark_rect(
        fill="white", fillOpacity=0.8, stroke="#cccccc", strokeWidth=1, cornerRadius=3
    ).encode(x=alt.value(6), x2=alt.value(86), y=alt.value(6.5), y2=alt.value(24.5))
    leg_line = alt.Chart(one()).mark_rule(color="#7f7f7f", strokeDash=[4.5, 2.5], strokeWidth=1.1).encode(
        x=alt.value(10.5), x2=alt.value(28), y=alt.value(15.5))
    leg_text = alt.Chart(one("Equal Rate")).mark_text(
        align="left", baseline="middle", font=FONT, fontSize=10, color="black"
    ).encode(text="t:N", x=alt.value(38.5), y=alt.value(15.5))

    return alt.layer(diag, pts, box, ta, tb, tc, leg_box, leg_line, leg_text).properties(
        width=W, height=H,
        title=alt.TitleParams(text=f'Token: "{TOKENS[i]}"', font=FONT, fontSize=13.3, fontWeight="bold",
                              color="black", anchor="middle", frame="group", offset=0),
    )


chart = alt.concat(*[panel(i) for i in range(9)], columns=3).properties(
    bounds="flush",
    spacing={"row": 41, "column": 48},
    autosize=alt.AutoSizeParams(type="none"),
    padding={"left": 42, "top": 12, "right": 995, "bottom": 1021},
    background="white",
).configure_view(
    stroke="#222222", strokeWidth=1
).configure_axis(
    domain=False, grid=True, gridColor="#d4d4d4", gridDash=[3, 2], gridWidth=0.8,
    tickSize=3.5, tickColor="#222222", tickWidth=0.8,
    labelFont=FONT, labelFontSize=12.5, labelColor="black", labelFlush=False, labelOverlap=False,
    titleFont=FONT, titleFontSize=13.5, titleFontWeight="normal", titleColor="black",
).configure_axisX(
    labelPadding=1, titleY=30, titleBaseline="alphabetic"
).configure_axisY(
    labelPadding=4.5, titleX=-30.5, titleBaseline="alphabetic"
)

chart.save("out.html", embed_options={"renderer": "svg", "actions": False})
